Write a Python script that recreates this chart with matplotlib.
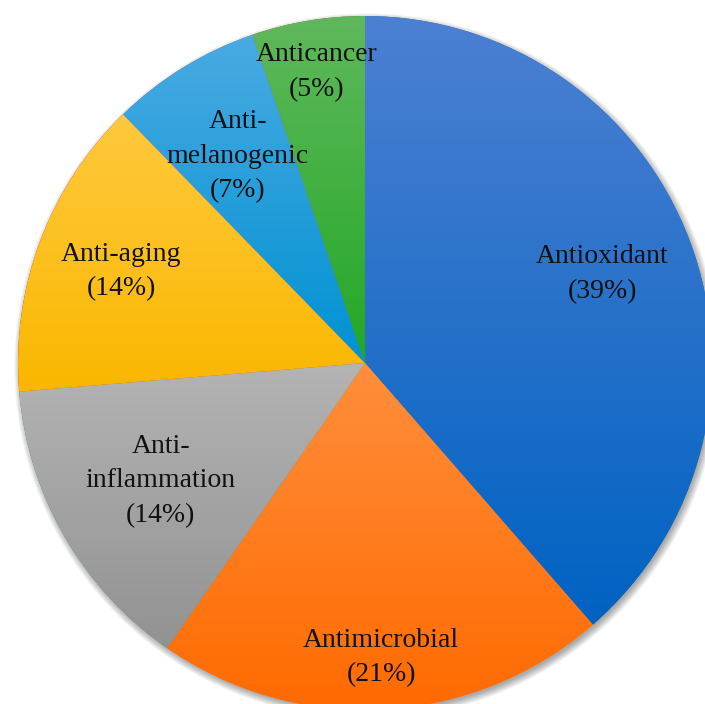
import numpy as np
import matplotlib
matplotlib.use("Agg")
import matplotlib.pyplot as plt
from matplotlib.colors import to_rgb
from matplotlib.patches import Circle

# data: number of studies per activity
labels = ["Antioxidant", "Antimicrobial", "Anti-\ninflammation", "Anti-aging",
          "Anti-\nmelanogenic", "Anticancer"]
counts = [22, 12, 8, 8, 4, 3]
# gradient colours per slice (top, bottom)
top_colors = ["#4C80D2", "#FF8E3C", "#B4B4B4", "#FFC93E", "#4AAAE2", "#60B85C"]
bottom_colors = ["#0062C2", "#FF6A00", "#929292", "#FAB700", "#0092D2", "#22A826"]
label_dist = [0.73, 0.85, 0.68, 0.75, 0.70, 0.85]

fig = plt.figure(figsize=(7.05, 7.04), dpi=100)
ax = fig.add_axes([0, 0, 1, 1])
ax.set_aspect("equal")
ax.axis("off")

# soft shadow behind the pie
for k in range(12):
    ax.add_patch(Circle((0.006, -0.009), 0.995 + k * 0.002, color="black",
                        alpha=0.03, lw=0, zorder=0))

wedges, _ = ax.pie(counts, startangle=90, counterclock=False, radius=1,
                   wedgeprops=dict(linewidth=0))

total = sum(counts)
angle = 90.0
for i, w in enumerate(wedges):
    w.set_zorder(1)
    # vertical gradient clipped to wedge
    c1 = np.array(to_rgb(top_colors[i]))
    c2 = np.array(to_rgb(bottom_colors[i]))
    verts = w.get_path().vertices
    ymin, ymax = verts[:, 1].min(), verts[:, 1].max()
    xmin, xmax = verts[:, 0].min(), verts[:, 0].max()
    t = np.linspace(0, 1, 256)[:, None]
    grad = (c1[None, :] * (1 - t) + c2[None, :] * t)[:, None, :]
    im = ax.imshow(grad, extent=(xmin, xmax, ymin, ymax), aspect="auto",
                   origin="upper", zorder=2, interpolation="bilinear")
    im.set_clip_path(w)

    span = counts[i] / total * 360
    mid = np.deg2rad(angle - span / 2)
    angle -= span
    pct = round(counts[i] / total * 100)
    ax.text(label_dist[i] * np.cos(mid), label_dist[i] * np.sin(mid),
            f"{labels[i]}\n({pct}%)", ha="center", va="center",
            fontsize=20, family="Liberation Serif", color="#111111",
            linespacing=1.5, zorder=5)

ax.set_xlim(-365 / 347, 340 / 347)
ax.set_ylim(-341 / 347, 363 / 347)
fig.savefig("out.png", dpi=100)
